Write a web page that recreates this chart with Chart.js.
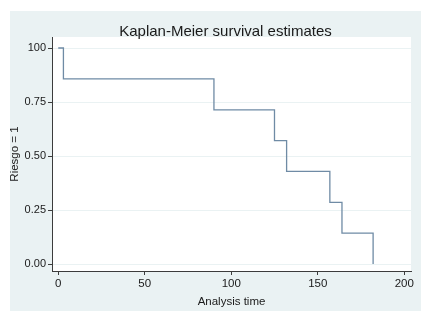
<!DOCTYPE html>
<html>
<head>
<meta charset="utf-8">
<script src="https://cdn.jsdelivr.net/npm/chart.js@4"></script>
<style>
  html, body { margin: 0; padding: 0; background: #ffffff; }
  #wrap { width: 432px; height: 322px; }
</style>
</head>
<body>
<div id="wrap"><canvas id="kmChart" width="432" height="322"></canvas></div>
<script>
// Kaplan-Meier step points: time at which survival drops, and the new survival
const times = [0, 3, 90, 125, 132, 157, 164, 182];
const survival = [1, 0.857, 0.714, 0.571, 0.429, 0.286, 0.143, 0];

const xTicks = [0, 50, 100, 150, 200];
const yTicks = [0, 0.25, 0.5, 0.75, 1];
const yTickLabels = ["0.00", "0.25", "0.50", "0.75", "100"];

const titleText = "Kaplan-Meier survival estimates";
const bgColor = "#eaf2f3";
const axisColor = "#3c3c3c";
const fontFamily = "'Liberation Sans', Arial, Helvetica, sans-serif";

// stata-like background: grey-blue frame, white plot region, title on top
const stataBackground = {
    id: "stataBackground",
    beforeDraw(chart) {
        const { ctx, chartArea } = chart;
        ctx.save();
        ctx.fillStyle = "#ffffff";
        ctx.fillRect(0, 0, chart.width, chart.height);
        ctx.fillStyle = bgColor;
        ctx.fillRect(10, 11, 411, 300);
        ctx.fillStyle = "#ffffff";
        ctx.fillRect(chartArea.left, chartArea.top, chartArea.right - chartArea.left, chartArea.bottom - chartArea.top);
        ctx.restore();
    },
    afterDraw(chart) {
        const ctx = chart.ctx;
        ctx.save();
        ctx.fillStyle = "#1a1a1a";
        ctx.font = "15px " + fontFamily;
        ctx.textAlign = "center";
        ctx.textBaseline = "middle";
        ctx.fillText(titleText, 225.5, 31.5);
        ctx.restore();
    },
};

const ctx = document.getElementById("kmChart").getContext("2d");
new Chart(ctx, {
    type: "line",
    plugins: [stataBackground],
    data: {
        datasets: [
            {
                data: times.map((t, i) => ({ x: t, y: survival[i] })),
                stepped: true,
                borderColor: "#6f8ba5",
                borderWidth: 1.3,
                pointRadius: 0,
                fill: false,
            },
        ],
    },
    options: {
        responsive: false,
        animation: false,
        layout: {
            padding: { top: 37, left: 10, right: 21, bottom: 11 },
        },
        plugins: {
            legend: { display: false },
            tooltip: { enabled: false },
        },
        scales: {
            x: {
                type: "linear",
                min: -3.6,
                max: 203.9,
                afterBuildTicks: (scale) => {
                    scale.ticks = xTicks.map((v) => ({ value: v }));
                },
                afterFit: (scale) => {
                    scale.height = 40;
                },
                border: { color: axisColor, width: 1 },
                grid: {
                    drawOnChartArea: false,
                    tickLength: 4,
                    tickColor: axisColor,
                },
                ticks: {
                    padding: 2,
                    color: "#1a1a1a",
                    maxRotation: 0,
                    font: { family: fontFamily, size: 11.5 },
                },
                title: {
                    display: true,
                    text: "Analysis time",
                    color: "#1a1a1a",
                    padding: { top: 0, bottom: 2 },
                    font: { family: fontFamily, size: 11.5 },
                },
            },
            y: {
                min: -0.032,
                max: 1.051,
                afterBuildTicks: (scale) => {
                    scale.ticks = yTicks.map((v) => ({ value: v }));
                },
                afterFit: (scale) => {
                    scale.width = 42;
                },
                border: { color: axisColor, width: 1 },
                grid: {
                    color: bgColor,
                    lineWidth: 1,
                    tickLength: 4,
                    tickColor: axisColor,
                },
                ticks: {
                    padding: 2,
                    color: "#1a1a1a",
                    font: { family: fontFamily, size: 11 },
                    callback: (value, index) => yTickLabels[index],
                },
                title: {
                    display: true,
                    text: "Riesgo = 1",
                    color: "#1a1a1a",
                    padding: 0,
                    font: { family: fontFamily, size: 11.5, lineHeight: 0.85 },
                },
            },
        },
    },
});
</script>
</body>
</html>
